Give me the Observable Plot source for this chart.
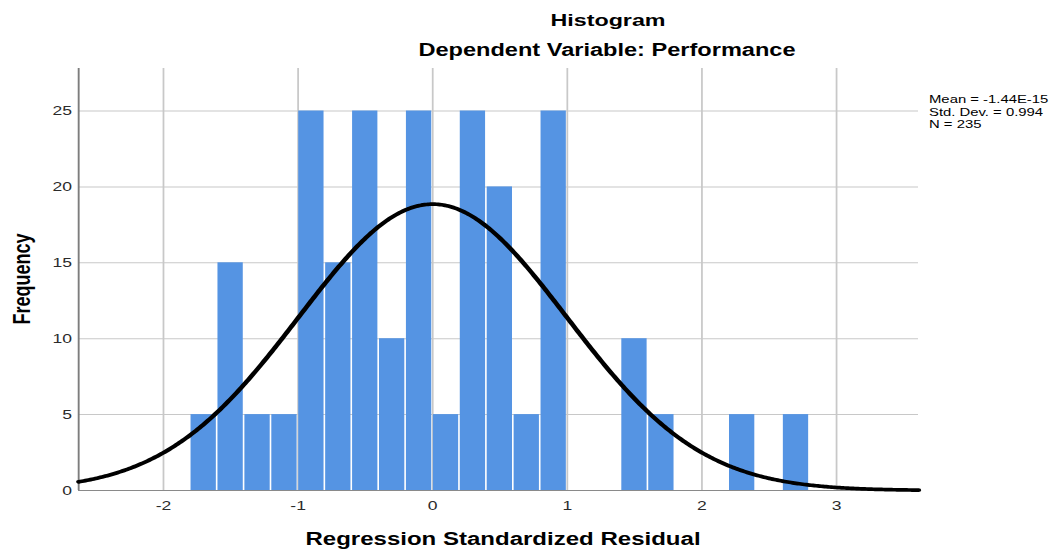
<!DOCTYPE html>
<html>
<head>
<meta charset="utf-8">
<script src="https://cdn.jsdelivr.net/npm/d3@7"></script>
<script src="https://cdn.jsdelivr.net/npm/@observablehq/plot@0.6"></script>
<style>
  html, body { margin: 0; padding: 0; background: #fff; }
  #wrap { position: relative; width: 1057px; height: 550px; overflow: hidden; font-family: "Liberation Sans", Arial, sans-serif; }
  #wrap svg { position: absolute; left: 0; top: 0; }
  .t { position: absolute; white-space: nowrap; line-height: 1; color: #000; transform-origin: 0 0; }
</style>
</head>
<body>
<div id="wrap"></div>
<script>
// ---- data ----
const binLower = [-1.8, -1.6, -1.4, -1.2, -1.0, -0.8, -0.6, -0.4, -0.2, 0.0, 0.2, 0.4, 0.6, 0.8, 1.0, 1.2, 1.4, 1.6, 1.8, 2.0, 2.2, 2.4, 2.6];
const frequency = [5, 15, 5, 5, 25, 15, 25, 10, 25, 5, 25, 20, 5, 25, 0, 0, 10, 5, 0, 0, 5, 0, 5];
const binWidth = 0.2;
const xTicks = [-2, -1, 0, 1, 2, 3];
const yTicks = [0, 5, 10, 15, 20, 25];
const statLines = ["Mean = -1.44E-15", "Std. Dev. = 0.994", "N = 235"];
const mean = -1.44e-15;
const stdDev = 0.994;
const n = 235;
const xDomain = [-2.63, 3.61];
const yDomain = [0, 27.8];
const titleText = "Histogram";
const subtitleText = "Dependent Variable: Performance";
const xLabelText = "Regression Standardized Residual";
const yLabelText = "Frequency";

// ---- derived tables ----
const bins = binLower.map((lo, i) => ({x1: lo, x2: lo + binWidth, y: frequency[i]})).filter(d => d.y > 0);
// fitted normal curve from the reported mean, std. dev. and N
const k = n * binWidth / (stdDev * Math.sqrt(2 * Math.PI));
const curve = d3.range(0, 501).map(i => {
  const x = xDomain[0] + i * (xDomain[1] - xDomain[0]) / 500;
  return {x, y: k * Math.exp(-((x - mean) ** 2) / (2 * stdDev * stdDev))};
});

// ---- layout (reference is horizontally stretched) ----
const S = 1.35, W = 1057, H = 550, LW = W / S;
const fmt = d => String(d);

const chart = Plot.plot({
  width: LW,
  height: H,
  marginLeft: 78 / S,
  marginRight: (W - 918) / S,
  marginTop: 68,
  marginBottom: 60,
  x: {domain: xDomain},
  y: {domain: yDomain},
  style: {fontFamily: "'Liberation Sans', Arial, sans-serif", fontSize: "13px", color: "#2b2b2b", background: "white", overflow: "visible"},
  marks: [
    Plot.ruleX(xTicks, {stroke: "#c8c8c8", strokeWidth: 1.3}),
    Plot.ruleY(yTicks.filter(d => d > 0), {stroke: "#c8c8c8", strokeWidth: 1}),
    Plot.rectY(bins, {x1: "x1", x2: "x2", y: "y", fill: "#5594e3", insetLeft: 0.6, insetRight: 0.6}),
    Plot.ruleX([xDomain[0]], {stroke: "#7d7d7d", strokeWidth: 1.4}),
    Plot.ruleY([0], {stroke: "#8a8a8a", strokeWidth: 1.2}),
    Plot.line(curve, {x: "x", y: "y", stroke: "black", strokeWidth: 3.7}),
    Plot.axisX(xTicks, {tickSize: 0, tickPadding: 10, label: null, fontSize: 13, tickFormat: fmt}),
    Plot.axisY(yTicks, {tickSize: 0, tickPadding: 5, label: null, fontSize: 13, tickFormat: fmt})
  ]
});

const svg = chart.tagName.toLowerCase() === "svg" ? chart : chart.querySelector("svg");
svg.setAttribute("width", W);
svg.setAttribute("height", H);
svg.setAttribute("preserveAspectRatio", "none");
svg.style.width = W + "px";
svg.style.height = H + "px";
svg.style.maxWidth = "none";

const wrap = document.getElementById("wrap");
wrap.appendChild(chart);

function addText(txt, opts) {
  const el = document.createElement("div");
  el.className = "t";
  el.textContent = txt;
  el.style.fontSize = opts.size + "px";
  el.style.fontWeight = opts.weight || "normal";
  wrap.appendChild(el);
  const w = el.offsetWidth;
  const sx = opts.target ? opts.target / w : S;
  if (opts.rotate) {
    el.style.left = opts.cx + "px";
    el.style.top = opts.cy + "px";
    el.style.transform = `scaleX(${sx}) rotate(-90deg) translate(-50%, -50%)`;
  } else if (opts.center) {
    el.style.left = opts.cx + "px";
    el.style.top = (opts.baseline - 0.8465 * opts.size) + "px";
    el.style.transform = `scaleX(${sx}) translateX(-50%)`;
  } else {
    el.style.left = opts.left + "px";
    el.style.top = (opts.baseline - 0.8465 * opts.size) + "px";
    el.style.transform = `scaleX(${sx})`;
  }
  return el;
}

addText(titleText, {size: 17, weight: "bold", center: true, cx: 607.5, baseline: 26, target: 115});
addText(subtitleText, {size: 17.5, weight: "bold", center: true, cx: 606.5, baseline: 57, target: 377});
addText(xLabelText, {size: 18, weight: "bold", center: true, cx: 503, baseline: 545, target: 395});
addText(yLabelText, {size: 18, weight: "bold", rotate: true, cx: 22, cy: 279});
const statBase = [103, 116, 128.5];
statLines.forEach((s, i) => addText(s, {size: 11, left: 929, baseline: statBase[i]}));
</script>
</body>
</html>
